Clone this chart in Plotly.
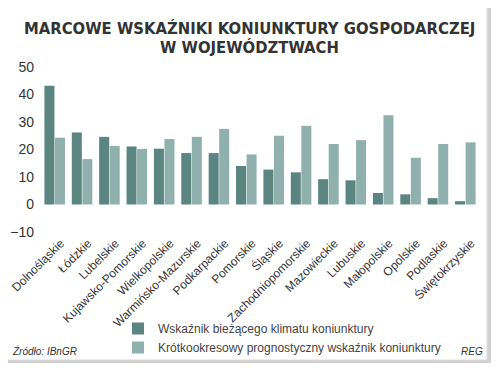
import plotly.graph_objects as go

categories = ["Dolnośląskie", "Łódzkie", "Lubelskie", "Kujawsko-Pomorskie", "Wielkopolskie",
              "Warmińsko-Mazurskie", "Podkarpackie", "Pomorskie", "Śląskie", "Zachodniopomorskie",
              "Mazowieckie", "Lubuskie", "Małopolskie", "Opolskie", "Podlaskie", "Świętokrzyskie"]
current_climate = [43.2, 26.2, 24.6, 21.1, 20.3, 18.7, 18.7, 14.0, 12.7, 11.7, 9.2, 8.8, 4.2, 3.7, 2.3, 1.2]
forecast = [24.3, 16.5, 21.3, 20.2, 23.8, 24.6, 27.5, 18.2, 25.0, 28.6, 22.0, 23.4, 32.5, 17.0, 22.0, 22.6]
series_names = ["Wskaźnik bieżącego klimatu koniunktury",
                "Krótkookresowy prognostyczny wskaźnik koniunktury"]
title_lines = ["MARCOWE WSKAŹNIKI KONIUNKTURY GOSPODARCZEJ", "W WOJEWÓDZTWACH"]
y_ticks = [-10, 0, 10, 20, 30, 40, 50]

# the page body has an 8px default margin, so the figure is shrunk to fit the window
OFF = 8
W, Hh = 500 - OFF, 373 - OFF
# plot area in window (reference) pixels
L, R, T, B = 41, 479, 67, 232


def px(p):
    return (p - L) / (R - L)


def py(p):
    return (B - p) / (B - T)


fig = go.Figure()
fig.add_trace(go.Bar(x=categories, y=current_climate, name=series_names[0],
                     marker=dict(color="#5b8581", line=dict(width=0))))
fig.add_trace(go.Bar(x=categories, y=forecast, name=series_names[1],
                     marker=dict(color="#8fb0ad", line=dict(width=0))))

# card background + shadow + top band (decoration)
fig.add_shape(type="rect", xref="paper", yref="paper", layer="below",
              x0=px(8), x1=px(491), y0=py(363), y1=py(5),
              fillcolor="#d0d0d0", line=dict(width=0))
fig.add_shape(type="rect", xref="paper", yref="paper", layer="below",
              x0=px(5), x1=px(487), y0=py(360), y1=py(2),
              fillcolor="white", line=dict(color="#dddddd", width=1))
fig.add_shape(type="rect", xref="paper", yref="paper", layer="below",
              x0=px(7), x1=px(485), y0=py(8), y1=py(3),
              fillcolor="#5e8584", line=dict(width=0))

title_font = dict(family="DejaVu Sans Condensed", size=16.5, color="#333333")
for line, yc in zip(title_lines, [28, 47]):
    fig.add_annotation(text="<b>" + line + "</b>", xref="paper", yref="paper",
                       x=px(249), y=py(yc), xanchor="center", yanchor="middle",
                       showarrow=False, font=title_font)

fig.add_annotation(text="<i>Źródło: IBnGR</i>", xref="paper", yref="paper",
                   x=px(10), y=py(351), xanchor="left", yanchor="middle", showarrow=False,
                   font=dict(family="Liberation Sans, Arial", size=10, color="#333"))
fig.add_annotation(text="<i>REG</i>", xref="paper", yref="paper",
                   x=px(485), y=py(351), xanchor="right", yanchor="middle", showarrow=False,
                   font=dict(family="Liberation Sans, Arial", size=10, color="#333"))

fig.update_layout(
    width=W, height=Hh,
    margin=dict(l=L - OFF, r=W - (R - OFF), t=T - OFF, b=Hh - (B - OFF), autoexpand=False),
    paper_bgcolor="white",
    plot_bgcolor="#ebebeb",
    barmode="group", bargap=0.23, bargroupgap=0.05,
    font=dict(family="Liberation Sans, Arial", color="#333333"),
    showlegend=True,
    legend=dict(orientation="v", x=px(118), y=py(314), xanchor="left", yanchor="top",
                xref="paper", yref="paper", bgcolor="rgba(0,0,0,0)",
                font=dict(family="Liberation Sans, Arial", size=12, color="#444444"),
                tracegroupgap=0),
    xaxis=dict(type="category", tickson="boundaries", showgrid=True, gridcolor="white", gridwidth=1,
               tickangle=-45, ticks="", tickfont=dict(size=12, color="#333333"),
               ticklabelshift=6, ticklabelstandoff=1,
               showline=False, zeroline=False, automargin=False),
    yaxis=dict(range=[-10, 50], tickvals=y_ticks, showgrid=True, gridcolor="white", gridwidth=1,
               zeroline=False, ticks="", tickfont=dict(size=14, color="#333333"), ticklabelstandoff=6,
               automargin=False),
)

fig.write_html("out.html")
